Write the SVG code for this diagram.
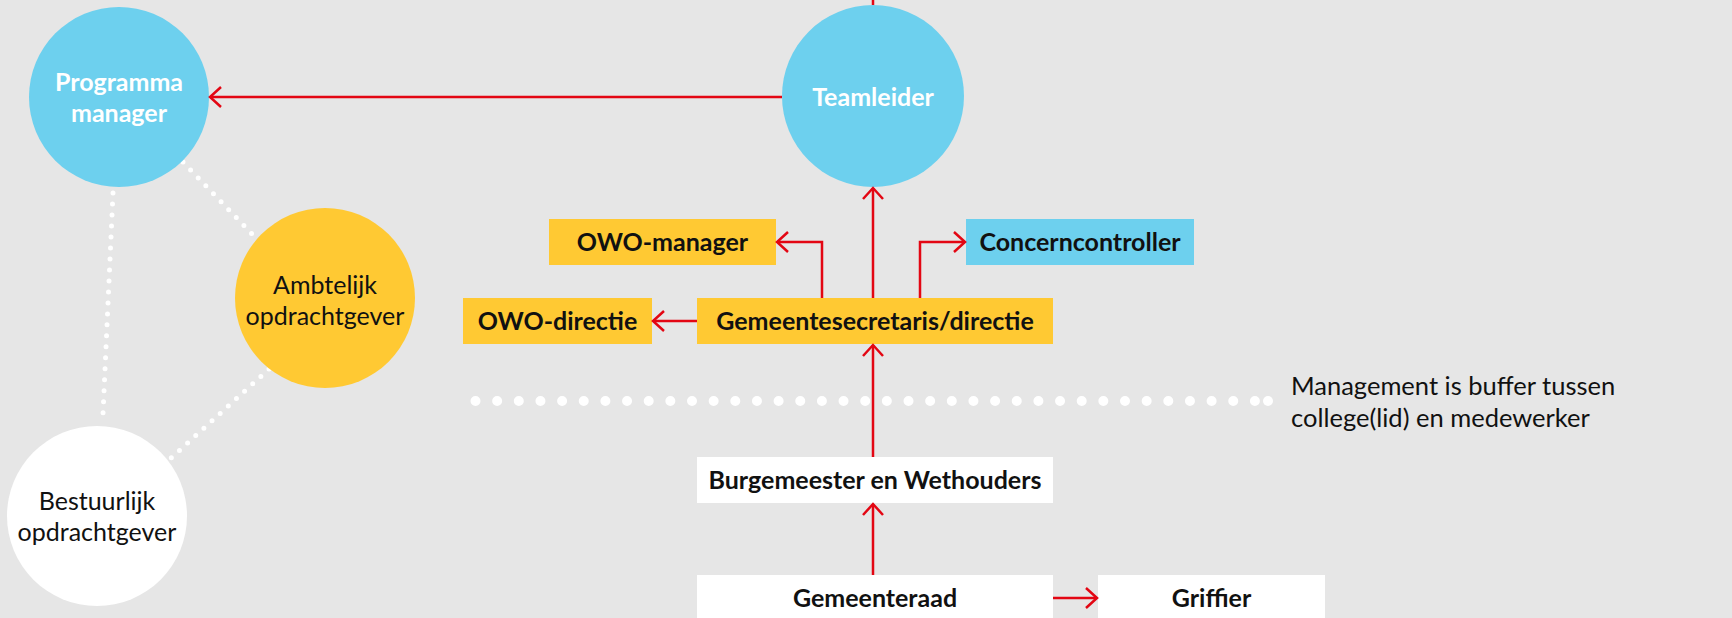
<svg xmlns="http://www.w3.org/2000/svg" width="1732" height="618" viewBox="0 0 1732 618">
<style>
.bg{fill:#e6e6e6}
.blue{fill:#6dd0ee}
.yellow{fill:#ffc933}
.white{fill:#ffffff}
.lbl{font-family:Lato,"Liberation Sans",sans-serif;font-size:25px;font-weight:bold;fill:#111;text-anchor:middle}
.lblw{font-family:Lato,"Liberation Sans",sans-serif;font-size:25px;font-weight:bold;fill:#ffffff;text-anchor:middle}
.reg{font-family:Lato,"Liberation Sans",sans-serif;font-size:25px;fill:#111;text-anchor:middle}
.note{font-family:Lato,"Liberation Sans",sans-serif;font-size:25.5px;fill:#111}
.dots{fill:none;stroke:#ffffff;stroke-width:5;stroke-linecap:round;stroke-dasharray:0 11}
.bigdots{fill:none;stroke:#ffffff;stroke-width:10;stroke-linecap:round;stroke-dasharray:0 21.65}
.con{fill:none;stroke:#e30613;stroke-width:2.5}
</style>
<defs>
<marker id="ah" markerUnits="userSpaceOnUse" markerWidth="26" markerHeight="26" viewBox="-13 -13 26 26" refX="0" refY="0" orient="auto">
<path d="M-11,-10 L0,0 L-11,10" fill="none" stroke="#e30613" stroke-width="2.5"/>
</marker>
</defs>
<rect class="bg" x="0" y="0" width="1732" height="618"/>

<g id="dotted-links">
<line class="dots" x1="113" y1="193" x2="103" y2="414"/>
<line class="dots" x1="183" y1="162" x2="253" y2="235"/>
<line class="dots" x1="269" y1="369" x2="170" y2="459"/>
<line class="bigdots" x1="475.5" y1="401" x2="1256" y2="401"/>
<circle cx="1268" cy="401" r="5" fill="#ffffff"/>
</g>

<g id="programma-manager">
<circle class="blue" cx="119" cy="97" r="90"/>
<text class="lblw" x="119" y="91">Programma</text>
<text class="lblw" x="119" y="122">manager</text>
</g>
<g id="ambtelijk-opdrachtgever">
<circle class="yellow" cx="325" cy="298" r="90"/>
<text class="reg" x="325" y="294">Ambtelijk</text>
<text class="reg" x="325" y="325">opdrachtgever</text>
</g>
<g id="bestuurlijk-opdrachtgever">
<circle class="white" cx="97" cy="516" r="90"/>
<text class="reg" x="97" y="510">Bestuurlijk</text>
<text class="reg" x="97" y="541">opdrachtgever</text>
</g>
<g id="teamleider">
<circle class="blue" cx="873" cy="96" r="91"/>
<text class="lblw" x="873" y="106">Teamleider</text>
</g>
<g id="owo-manager">
<rect class="yellow" x="549" y="219" width="227" height="46"/>
<text class="lbl" x="662.5" y="251">OWO-manager</text>
</g>
<g id="concerncontroller">
<rect class="blue" x="966" y="219" width="228" height="46"/>
<text class="lbl" x="1080" y="251">Concerncontroller</text>
</g>
<g id="owo-directie">
<rect class="yellow" x="463" y="298" width="189" height="46"/>
<text class="lbl" x="557.5" y="330">OWO-directie</text>
</g>
<g id="gemeentesecretaris">
<rect class="yellow" x="697" y="298" width="356" height="46"/>
<text class="lbl" x="875" y="330">Gemeentesecretaris/directie</text>
</g>
<g id="burgemeester">
<rect class="white" x="697" y="457" width="356" height="46"/>
<text class="lbl" x="875" y="489">Burgemeester en Wethouders</text>
</g>
<g id="gemeenteraad">
<rect class="white" x="697" y="575" width="356" height="46"/>
<text class="lbl" x="875" y="607">Gemeenteraad</text>
</g>
<g id="griffier">
<rect class="white" x="1098" y="575" width="227" height="46"/>
<text class="lbl" x="1211.5" y="607">Griffier</text>
</g>
<g id="note">
<text class="note" x="1291" y="395">Management is buffer tussen</text>
<text class="note" x="1291" y="427">college(lid) en medewerker</text>
</g>

<g id="connectors">
<line class="con" x1="873" y1="0" x2="873" y2="5"/>
<line class="con" x1="782" y1="97" x2="210" y2="97" marker-end="url(#ah)"/>
<line class="con" x1="873" y1="298" x2="873" y2="188" marker-end="url(#ah)"/>
<polyline class="con" points="822,298 822,242 777,242" marker-end="url(#ah)"/>
<polyline class="con" points="920,298 920,242 965,242" marker-end="url(#ah)"/>
<line class="con" x1="697" y1="321" x2="653" y2="321" marker-end="url(#ah)"/>
<line class="con" x1="873" y1="457" x2="873" y2="345" marker-end="url(#ah)"/>
<line class="con" x1="873" y1="575" x2="873" y2="504" marker-end="url(#ah)"/>
<line class="con" x1="1053" y1="598" x2="1097" y2="598" marker-end="url(#ah)"/>
</g>
</svg>
